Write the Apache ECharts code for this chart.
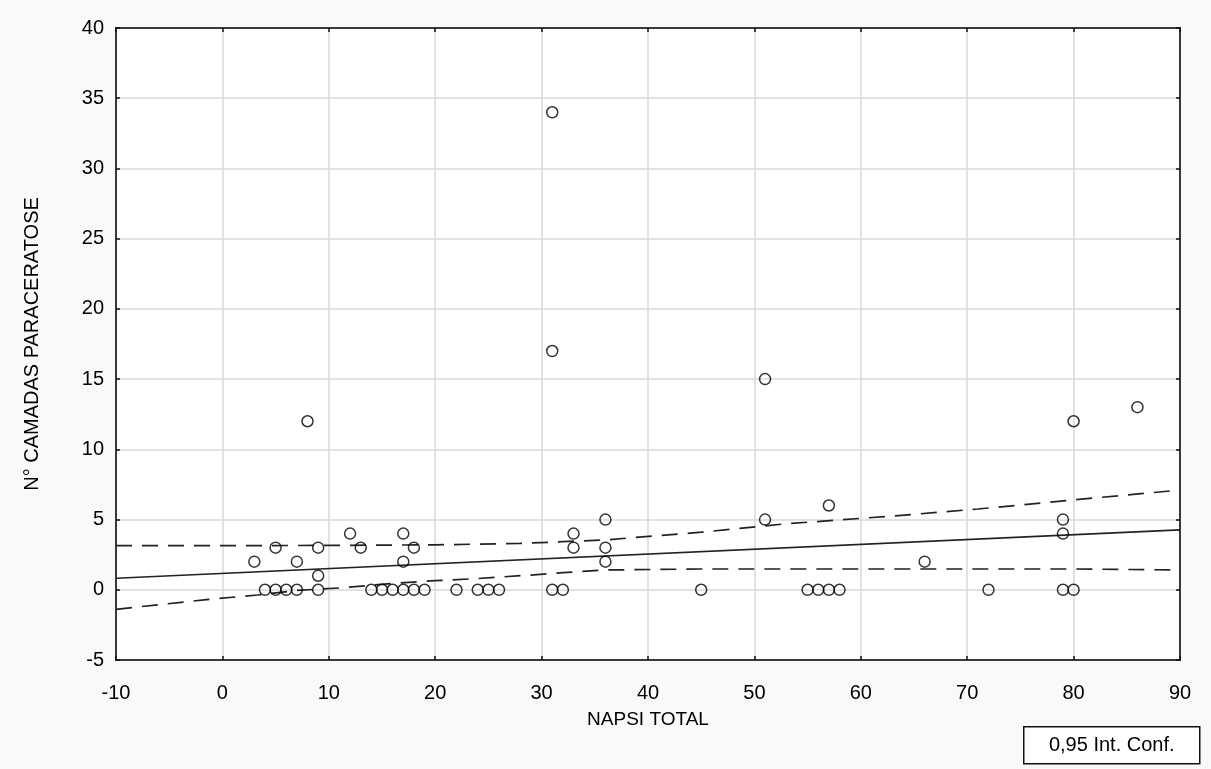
<!DOCTYPE html>
<html>
<head>
<meta charset="utf-8">
<script src="https://cdn.jsdelivr.net/npm/echarts@6/dist/echarts.min.js"></script>
<style>
  html, body { margin: 0; padding: 0; background: #f9f9f9; }
  #chart { width: 1211px; height: 769px; }
</style>
</head>
<body>
<div id="chart"></div>
<script>
// Observed data: NAPSI TOTAL (x) vs Nº camadas paracerátose (y)
const napsi   = [4,5,6,7,9,14,15,16,17,18,19,22,24,25,26,31,32,45,55,56,57,58,72,79,80,
                 9,
                 3,7,17,36,66,
                 5,9,13,18,33,36,
                 12,17,33,79,
                 36,51,79,
                 57,
                 8,80,
                 86,
                 51,
                 31,
                 31];
const camadas = [0,0,0,0,0,0,0,0,0,0,0,0,0,0,0,0,0,0,0,0,0,0,0,0,0,
                 1,
                 2,2,2,2,2,
                 3,3,3,3,3,3,
                 4,4,4,4,
                 5,5,5,
                 6,
                 12,12,
                 13,
                 15,
                 17,
                 34];

// Regression line
const fitX = [-10, 90];
const fitY = [0.82, 4.26];

// 0,95 confidence bands
const upperX = [-10, 0, 10, 20, 28, 36, 45, 53, 63, 71, 80, 90];
const upperY = [3.14, 3.14, 3.16, 3.2, 3.3, 3.55, 4.1, 4.7, 5.25, 5.75, 6.4, 7.1];
const lowerX = [-10, -1.5, 3.3, 7, 11, 16, 20, 24, 29, 32, 36, 45, 60, 80, 90];
const lowerY = [-1.39, -0.7, -0.37, -0.05, 0.13, 0.45, 0.65, 0.8, 1.05, 1.22, 1.41, 1.48, 1.48, 1.48, 1.41];

const xTicks = { min: -10, max: 90, interval: 10 };
const yTicks = { min: -5, max: 40, interval: 5 };

const zip = (a, b) => a.map((v, i) => [v, b[i]]);

const chart = echarts.init(document.getElementById('chart'), null, { renderer: 'canvas' });

const labelFont = "'Liberation Sans', Arial, sans-serif";

const option = {
  backgroundColor: '#f9f9f9',
  animation: false,
  grid: {
    left: 116, top: 28, right: 31, bottom: 109,
    show: true, backgroundColor: '#ffffff',
    borderColor: '#111', borderWidth: 1.5
  },
  xAxis: [{
    type: 'value',
    min: xTicks.min, max: xTicks.max, interval: xTicks.interval,
    position: 'bottom',
    name: 'NAPSI TOTAL',
    nameLocation: 'middle',
    nameGap: 50,
    nameTextStyle: { fontFamily: labelFont, fontSize: 19, color: '#000' },
    axisLine: { show: true, onZero: false, lineStyle: { color: '#111', width: 1.5 } },
    axisTick: { show: true, inside: true, length: 4, lineStyle: { color: '#111', width: 1.5 } },
    axisLabel: { fontFamily: "'Liberation Sans Narrow', 'Liberation Sans', Arial, sans-serif", fontSize: 20, color: '#000', margin: 23 },
    splitLine: { show: true, lineStyle: { color: '#d9d9d9', width: 1.5 } }
  }, {
    type: 'value',
    min: xTicks.min, max: xTicks.max, interval: xTicks.interval,
    position: 'top',
    axisLine: { show: true, onZero: false, lineStyle: { color: '#111', width: 1.5 } },
    axisTick: { show: true, inside: true, length: 4, lineStyle: { color: '#111', width: 1.5 } },
    axisLabel: { show: false },
    splitLine: { show: false }
  }],
  yAxis: [{
    type: 'value',
    min: yTicks.min, max: yTicks.max, interval: yTicks.interval,
    position: 'left',
    name: 'N° CAMADAS PARACERATOSE',
    nameLocation: 'middle',
    nameGap: 74,
    nameRotate: 90,
    nameTextStyle: { fontFamily: labelFont, fontSize: 20, color: '#000' },
    axisLine: { show: true, onZero: false, lineStyle: { color: '#111', width: 1.5 } },
    axisTick: { show: true, inside: true, length: 4, lineStyle: { color: '#111', width: 1.5 } },
    axisLabel: { fontFamily: labelFont, fontSize: 20, color: '#000', margin: 12 },
    splitLine: { show: true, lineStyle: { color: '#d9d9d9', width: 1.5 } }
  }, {
    type: 'value',
    min: yTicks.min, max: yTicks.max, interval: yTicks.interval,
    position: 'right',
    axisLine: { show: true, onZero: false, lineStyle: { color: '#111', width: 1.5 } },
    axisTick: { show: true, inside: true, length: 4, lineStyle: { color: '#111', width: 1.5 } },
    axisLabel: { show: false },
    splitLine: { show: false }
  }],
  series: [
    {
      type: 'line', name: 'fit', data: zip(fitX, fitY),
      showSymbol: false, symbol: 'none', silent: true,
      lineStyle: { color: '#222', width: 1.7, type: 'solid' }, z: 2
    },
    {
      type: 'line', name: 'upper', data: zip(upperX, upperY),
      showSymbol: false, symbol: 'none', silent: true,
      lineStyle: { color: '#222', width: 1.7, type: [16, 10] }, z: 2
    },
    {
      type: 'line', name: 'lower', data: zip(lowerX, lowerY),
      showSymbol: false, symbol: 'none', silent: true,
      lineStyle: { color: '#222', width: 1.7, type: [16, 10] }, z: 2
    },
    {
      type: 'scatter', name: 'pontos', data: zip(napsi, camadas),
      symbol: 'circle', symbolSize: 11,
      itemStyle: { color: 'rgba(255,255,255,0)', borderColor: '#000', borderWidth: 1.5 },
      z: 3
    }
  ],
  graphic: [{
    type: 'group',
    left: 1023, top: 726,
    children: [{
      type: 'rect',
      shape: { x: 0, y: 0, width: 176, height: 37 },
      style: { fill: '#ffffff', stroke: '#111', lineWidth: 1.5 }
    }, {
      type: 'text',
      x: 88, y: 19,
      style: {
        text: '0,95 Int. Conf.',
        font: "20px 'Liberation Sans', Arial, sans-serif",
        fill: '#000', align: 'center', verticalAlign: 'middle'
      }
    }]
  }]
};

chart.setOption(option);
</script>
</body>
</html>
